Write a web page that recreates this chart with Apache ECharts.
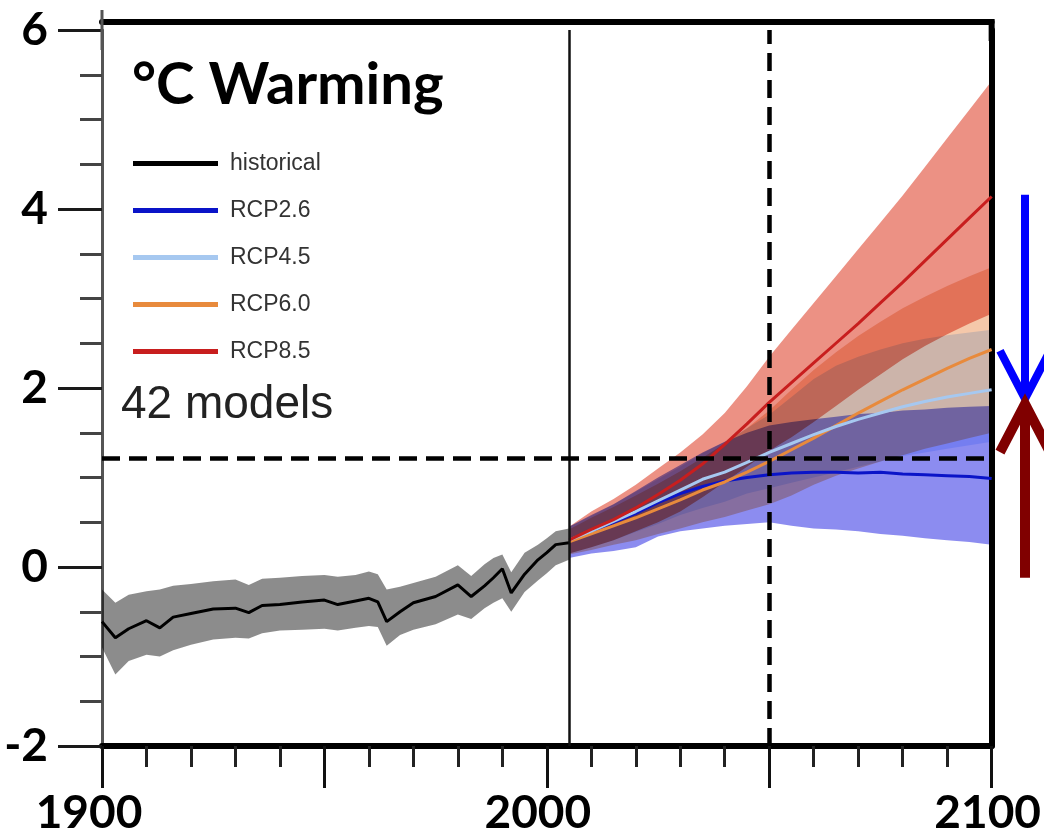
<!DOCTYPE html>
<html>
<head>
<meta charset="utf-8">
<title>°C Warming</title>
<script src="https://cdn.jsdelivr.net/npm/echarts@6/dist/echarts.min.js"></script>
<style>
  html, body { margin: 0; padding: 0; background: #fff; }
  #main { width: 1044px; height: 836px; }
</style>
</head>
<body>
<div id="main"></div>
<script>
// historical ensemble (mean and range)
const histYears = [1900, 1903, 1906, 1910, 1913, 1916, 1920, 1925, 1930, 1933, 1936, 1940, 1945, 1950, 1953, 1957, 1960, 1962, 1964, 1967, 1970, 1975, 1980, 1983, 1986, 1988, 1990, 1992, 1995, 1998, 2000, 2002, 2005];
const histMean = [-0.61, -0.79, -0.69, -0.60, -0.68, -0.56, -0.52, -0.47, -0.46, -0.51, -0.43, -0.42, -0.39, -0.37, -0.42, -0.38, -0.35, -0.39, -0.61, -0.50, -0.40, -0.33, -0.20, -0.33, -0.21, -0.12, -0.02, -0.29, -0.08, 0.08, 0.16, 0.25, 0.27];
const histHigh = [-0.25, -0.40, -0.31, -0.27, -0.25, -0.21, -0.19, -0.16, -0.14, -0.20, -0.13, -0.12, -0.10, -0.09, -0.11, -0.09, -0.05, -0.08, -0.25, -0.22, -0.18, -0.11, 0.02, -0.10, 0.03, 0.10, 0.14, -0.06, 0.16, 0.25, 0.32, 0.40, 0.43];
const histLow = [-0.90, -1.20, -1.05, -0.98, -1.00, -0.93, -0.87, -0.81, -0.79, -0.80, -0.74, -0.71, -0.70, -0.69, -0.71, -0.68, -0.66, -0.67, -0.88, -0.76, -0.70, -0.64, -0.53, -0.58, -0.46, -0.40, -0.35, -0.50, -0.28, -0.15, -0.07, 0.02, 0.08];

// scenarios
const projYears = [2005, 2010, 2015, 2020, 2025, 2030, 2035, 2040, 2045, 2050, 2055, 2060, 2065, 2070, 2075, 2080, 2085, 2090, 2095, 2100];

const rcp26Mean = [0.30, 0.40, 0.50, 0.60, 0.72, 0.82, 0.90, 0.96, 1.00, 1.03, 1.05, 1.06, 1.06, 1.05, 1.06, 1.04, 1.03, 1.02, 1.01, 0.99];
const rcp26High = [0.45, 0.58, 0.70, 0.85, 1.00, 1.14, 1.28, 1.40, 1.50, 1.58, 1.62, 1.65, 1.68, 1.71, 1.72, 1.75, 1.76, 1.78, 1.79, 1.80];
const rcp26Low = [0.10, 0.15, 0.18, 0.22, 0.34, 0.40, 0.43, 0.46, 0.48, 0.50, 0.46, 0.43, 0.42, 0.40, 0.37, 0.35, 0.32, 0.30, 0.28, 0.25];

const rcp45Mean = [0.30, 0.40, 0.51, 0.62, 0.74, 0.86, 0.98, 1.06, 1.17, 1.28, 1.38, 1.48, 1.57, 1.65, 1.72, 1.79, 1.85, 1.90, 1.94, 1.98];
const rcp45High = [0.45, 0.57, 0.70, 0.84, 0.98, 1.12, 1.27, 1.40, 1.55, 1.70, 1.90, 2.10, 2.25, 2.35, 2.43, 2.50, 2.55, 2.59, 2.62, 2.65];
const rcp45Low = [0.15, 0.22, 0.30, 0.39, 0.48, 0.58, 0.66, 0.73, 0.82, 0.88, 0.94, 1.00, 1.06, 1.12, 1.18, 1.24, 1.28, 1.32, 1.36, 1.40];

const rcp60Mean = [0.28, 0.37, 0.46, 0.55, 0.65, 0.75, 0.86, 0.95, 1.06, 1.18, 1.31, 1.44, 1.58, 1.72, 1.85, 1.98, 2.10, 2.22, 2.33, 2.43];
const rcp60High = [0.42, 0.55, 0.67, 0.80, 0.93, 1.07, 1.22, 1.38, 1.55, 1.75, 1.98, 2.20, 2.40, 2.58, 2.74, 2.89, 3.02, 3.14, 3.25, 3.35];
const rcp60Low = [0.14, 0.19, 0.25, 0.30, 0.37, 0.43, 0.50, 0.56, 0.63, 0.70, 0.80, 0.92, 1.02, 1.10, 1.18, 1.25, 1.32, 1.38, 1.44, 1.50];

const rcp85Mean = [0.30, 0.42, 0.53, 0.66, 0.81, 0.97, 1.15, 1.37, 1.60, 1.84, 2.06, 2.28, 2.50, 2.72, 2.95, 3.18, 3.42, 3.66, 3.90, 4.14];
const rcp85High = [0.45, 0.62, 0.76, 0.92, 1.10, 1.28, 1.48, 1.72, 2.02, 2.35, 2.65, 2.95, 3.25, 3.55, 3.85, 4.15, 4.47, 4.79, 5.11, 5.43];
const rcp85Low = [0.15, 0.22, 0.30, 0.40, 0.50, 0.62, 0.78, 0.95, 1.12, 1.30, 1.45, 1.62, 1.80, 1.98, 2.15, 2.32, 2.47, 2.60, 2.72, 2.83];

// reference lines and the two arrows on the right
const nowYear = 2005;
const targetYear = 2050;
const targetWarming = 1.22;
const arrowYear = 2107.5;
const arrowDown = [4.16, 1.88];
const arrowUp = [-0.12, 1.82];

const yTicks = [-2, 0, 2, 4, 6];

function pair(xs, ys) {
    return xs.map((x, i) => [x, ys[i]]);
}

// one polygon per range, multiplied onto what is below so overlaps darken
function band(id, xs, lo, hi, color) {
    return {
        name: id,
        type: 'custom',
        silent: true,
        clip: true,
        blendMode: 'multiply',
        data: xs.map((x, i) => [x, lo[i], hi[i]]),
        encode: { x: 0, y: [1, 2] },
        renderItem: function (params, api) {
            if (params.dataIndexInside !== 0) return null;
            let upper = [], lower = [];
            for (let i = 0; i < params.dataInsideLength; i++) {
                upper.push(api.coord([api.value(0, i), api.value(2, i)]));
                lower.push(api.coord([api.value(0, i), api.value(1, i)]));
            }
            return {
                type: 'polygon',
                shape: { points: upper.concat(lower.reverse()) },
                style: { fill: color }
            };
        },
        z: 2
    };
}

function meanLine(name, xs, ys, color, width) {
    return {
        name: name,
        type: 'line',
        data: pair(xs, ys),
        symbol: 'none',
        silent: true,
        itemStyle: { color: color },
        lineStyle: { color: color, width: width },
        z: 3
    };
}

const labelFont = { fontFamily: 'Lato', fontWeight: 'bold', fontSize: 46, color: '#000' };

let chart = echarts.init(document.getElementById('main'));

let histSeries = meanLine('historical', histYears, histMean, '#000', 3);
histSeries.markLine = {
    silent: true,
    symbol: ['none', 'none'],
    label: { show: false },
    data: [
        { xAxis: nowYear, lineStyle: { color: '#111', width: 2.5, type: 'solid' } },
        { xAxis: targetYear, lineStyle: { color: '#000', width: 4.5, type: [18, 9] } },
        { yAxis: targetWarming, lineStyle: { color: '#000', width: 4.5, type: [18, 9] } }
    ]
};

let option = {
    animation: false,
    backgroundColor: '#fff',
    title: [{
        text: '°C Warming',
        left: 127,
        top: 51,
        textStyle: { fontFamily: 'Lato', fontWeight: 'bold', fontSize: 58, color: '#000' }
    }, {
        text: '42 models',
        left: 116,
        top: 377,
        textStyle: { fontFamily: 'Liberation Sans', fontWeight: 'normal', fontSize: 46, color: '#222' }
    }],
    legend: {
        data: ['historical', 'RCP2.6', 'RCP4.5', 'RCP6.0', 'RCP8.5'],
        orient: 'vertical',
        left: 128,
        top: 147,
        icon: 'rect',
        itemWidth: 85,
        itemHeight: 5,
        itemGap: 24,
        selectedMode: false,
        textStyle: { fontFamily: 'Liberation Sans', fontSize: 23, color: '#333', padding: [0, 0, 0, 7] }
    },
    grid: { left: 102, right: 51, top: 30, bottom: 88 },
    xAxis: [{
        type: 'value',
        min: 1900,
        max: 2100,
        interval: 50,
        position: 'bottom',
        axisLine: { show: true, onZero: false, lineStyle: { color: '#000', width: 6 } },
        axisTick: { show: true, length: 42, lineStyle: { color: '#111', width: 3 } },
        minorTick: { show: true, splitNumber: 5, length: 21, lineStyle: { color: '#222', width: 3 } },
        splitLine: { show: false },
        axisLabel: {
            margin: 44,
            formatter: v => (v % 100 === 0) ? '{y' + v + '|' + v + '}' : '',
            rich: {
                y1900: Object.assign({ padding: [0, 26, 0, 0] }, labelFont),
                y2000: Object.assign({ padding: [0, 18, 0, 0] }, labelFont),
                y2100: Object.assign({ padding: [0, 8, 0, 0] }, labelFont)
            }
        }
    }, {
        type: 'value',
        min: 1900,
        max: 2100,
        position: 'top',
        offset: 8,
        axisLine: { show: true, onZero: false, lineStyle: { color: '#000', width: 6 } },
        axisTick: { show: false },
        axisLabel: { show: false },
        splitLine: { show: false }
    }],
    yAxis: [{
        type: 'value',
        min: yTicks[0],
        max: yTicks[yTicks.length - 1],
        interval: 2,
        position: 'left',
        axisLine: { show: true, onZero: false, lineStyle: { color: '#555', width: 3 }, symbol: ['none', 'rect'], symbolSize: [3, 40] },
        axisTick: { show: true, length: 44, lineStyle: { color: '#1a1a1a', width: 3 } },
        minorTick: { show: true, splitNumber: 4, length: 22, lineStyle: { color: '#444', width: 3 } },
        splitLine: { show: false },
        axisLabel: Object.assign({ margin: 54 }, labelFont)
    }, {
        type: 'value',
        min: yTicks[0],
        max: yTicks[yTicks.length - 1],
        position: 'right',
        axisLine: { show: true, onZero: false, lineStyle: { color: '#000', width: 6 }, symbol: ['none', 'rect'], symbolSize: [6, 22] },
        axisTick: { show: false },
        axisLabel: { show: false },
        splitLine: { show: false }
    }],
    series: [
        band('hist', histYears, histLow, histHigh, '#8c8c8c'),
        band('rcp85', projYears, rcp85Low, rcp85High, '#ec9184'),
        band('rcp60', projYears, rcp60Low, rcp60High, '#f5c8aa'),
        band('rcp45', projYears, rcp45Low, rcp45High, '#d5e6ff'),
        band('rcp26', projYears, rcp26Low, rcp26High, '#8c8cf0'),
        meanLine('RCP2.6', projYears, rcp26Mean, '#0a14c8', 3),
        meanLine('RCP6.0', projYears, rcp60Mean, '#e88a3c', 3),
        meanLine('RCP4.5', projYears, rcp45Mean, '#a6c8f0', 3),
        meanLine('RCP8.5', projYears, rcp85Mean, '#c81e1e', 3),
        histSeries
    ]
};

chart.setOption(option);

// arrows drawn beyond 2100, placed through the chart's own scales
function arrow(year, from, to, color, width) {
    let a = chart.convertToPixel({ gridIndex: 0 }, [year, from]);
    let b = chart.convertToPixel({ gridIndex: 0 }, [year, to]);
    let dir = Math.sign(b[1] - a[1]);
    let headH = 48, headW = 25;
    return [{
        type: 'line',
        z: 100,
        shape: { x1: a[0], y1: a[1], x2: b[0], y2: b[1] - dir * 4 },
        style: { stroke: color, lineWidth: width }
    }, {
        type: 'polyline',
        z: 100,
        shape: { points: [[b[0] - headW, b[1] - dir * headH], [b[0], b[1]], [b[0] + headW, b[1] - dir * headH]] },
        style: { stroke: color, lineWidth: width, fill: null, lineJoin: 'miter' }
    }];
}

chart.setOption({
    graphic: [].concat(
        arrow(arrowYear, arrowDown[0], arrowDown[1], '#0000ff', 8),
        arrow(arrowYear, arrowUp[0], arrowUp[1], '#800000', 10)
    )
});
</script>
</body>
</html>
